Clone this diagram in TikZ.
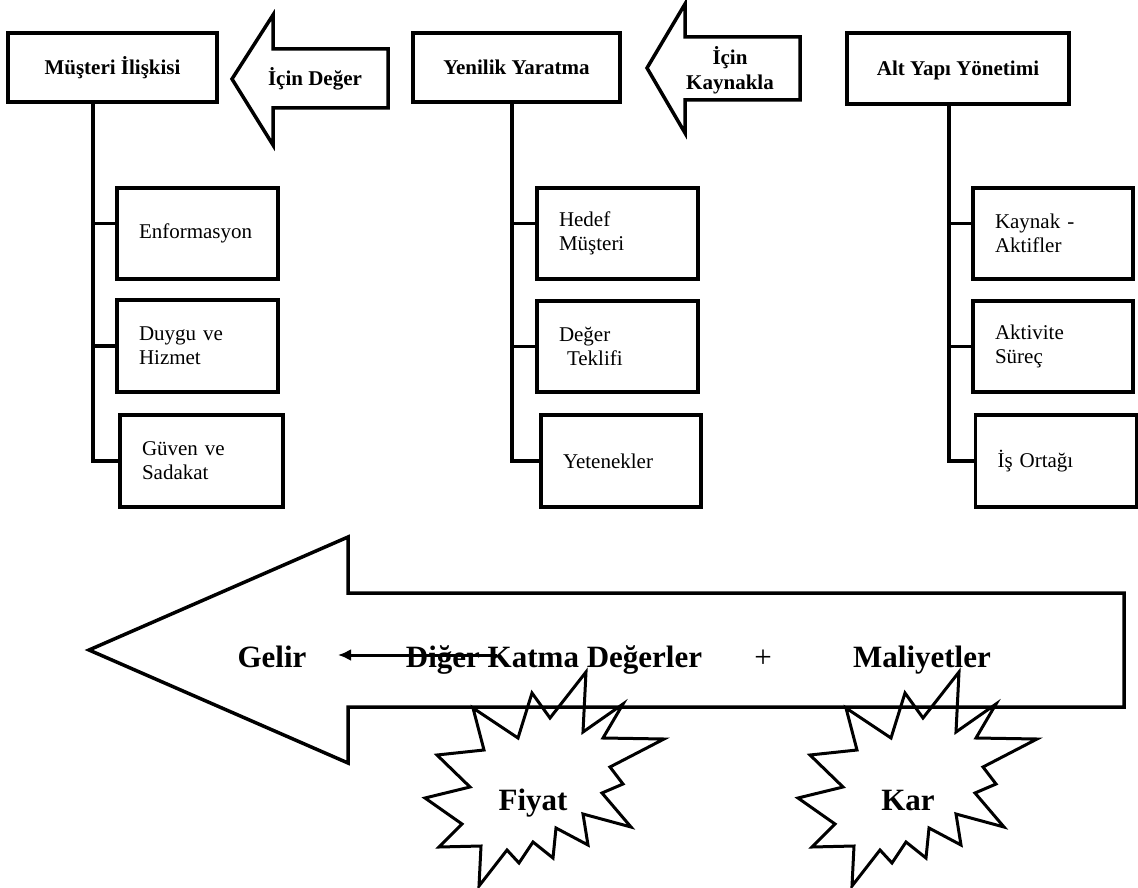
\documentclass[tikz,border=0pt]{standalone}
\usepackage{fontspec}
\setmainfont{Liberation Serif}
\usetikzlibrary{arrows.meta}
\begin{document}
\begin{tikzpicture}[x=1pt,y=-1pt,
  lw/.style={line width=3.5pt},
  outline/.style={draw, line width=3.5pt},
  topbox/.style={draw, line width=3.5pt, font=\fontsize{21}{25}\selectfont\bfseries, text height=18pt, text depth=4pt, inner sep=0pt},
  arrowtext/.style={font=\fontsize{21}{25}\selectfont\bfseries, inner sep=0pt, align=center},
  subbox/.style={draw, line width=3.5pt, font=\fontsize{21}{24}\selectfont, align=left, inner xsep=22pt, inner ysep=0pt},
  bigtext/.style={font=\fontsize{31}{36}\selectfont\bfseries, anchor=base, inner sep=0pt},
  burst/.pic={\draw[line width=3pt] (53,-128) -- (50,-68) -- (90,-96) -- (70,-62) -- (131,-61) -- (77,-33) -- (90,-16) -- (69,-7) -- (98,27) -- (50,14) -- (55,45) -- (23,28) -- (20,58) -- (0,42) -- (-14,63) -- (-26,50) -- (-54,86) -- (-52,46) -- (-94,47) -- (-71,24) -- (-108,-2) -- (-63,-13) -- (-96,-45) -- (-49,-50) -- (-60,-92) -- (-15,-62) -- (-1,-107) -- (17,-82) -- cycle;}
]
\useasboundingbox (0,0) rectangle (1138,888);

% top boxes
\node[topbox, minimum width=209pt, minimum height=69pt] (b1) at (112.5,67.5) {Müşteri İlişkisi};
\node[topbox, minimum width=207pt, minimum height=69pt] (b2) at (516.5,67.5) {Yenilik Yaratma};
\node[topbox, minimum width=222pt, minimum height=71pt] (b3) at (958,68.5) {Alt Yapı Yönetimi};

% top block arrows
\draw[outline] (232,79) -- (273,15) -- (273,49) -- (388,49) -- (388,108) -- (273,108) -- (273,145) -- cycle;
\node[arrowtext, text height=18pt, text depth=4pt] (icin1) at (315,79) {İçin Değer};
\draw[outline] (647,68) -- (685,4) -- (685,37) -- (800,37) -- (800,100) -- (685,100) -- (685,133) -- cycle;
\node[arrowtext] (icin2) at (730,70) {İçin\\Kaynakla};

% sub boxes column 1
\node[subbox, minimum width=161pt, minimum height=91pt, text width=117pt] (e1) at (197.5,233.5) {Enformasyon};
\node[subbox, minimum width=161pt, minimum height=92pt, text width=117pt] (d1) at (197.5,346) {Duygu ve\\Hizmet};
\node[subbox, minimum width=163pt, minimum height=92pt, text width=119pt] (g1) at (201.5,461) {Güven ve\\Sadakat};
% column 2
\node[subbox, minimum width=161pt, minimum height=91pt, text width=117pt] (h2) at (617.5,233.5) {Hedef\\Müşteri};
\node[subbox, minimum width=161pt, minimum height=91pt, text width=117pt] (d2) at (617.5,346.5) {Değer\\\hspace*{8pt}Teklifi};
\node[subbox, minimum width=160pt, minimum height=92pt, text width=116pt] (y2) at (621,461) {Yetenekler};
% column 3
\node[subbox, minimum width=160pt, minimum height=91pt, text width=116pt] (k3) at (1053,233.5) {Kaynak -\\Aktifler};
\node[subbox, minimum width=160pt, minimum height=91pt, text width=116pt] (a3) at (1053,346.5) {Aktivite\\Süreç};
\node[subbox, minimum width=161pt, minimum height=92pt, text width=117pt] (i3) at (1056,461) {İş Ortağı};

% trunks
\coordinate (t1) at (93,0);
\coordinate (t2) at (512,0);
\coordinate (t3) at (949,0);
\draw[lw] (b1.south -| t1) |- ([yshift=10pt]e1.west);
\draw[lw] (b1.south -| t1) |- (d1.west);
\draw[lw] (b1.south -| t1) |- (g1.west);
\draw[lw] (b2.south -| t2) |- ([yshift=10pt]h2.west);
\draw[lw] (b2.south -| t2) |- (d2.west);
\draw[lw] (b2.south -| t2) |- (y2.west);
\draw[lw] (b3.south -| t3) |- ([yshift=10pt]k3.west);
\draw[lw] (b3.south -| t3) |- (a3.west);
\draw[lw] (b3.south -| t3) |- (i3.west);

% bursts
\node[bigtext] (fiyat) at (533,810) {Fiyat};
\pic at (533,800) {burst};
\node[bigtext] (kar) at (908,810) {Kar};
\pic at (906,800) {burst};

% big arrow
\draw[outline] (89,650) -- (348,537) -- (348,593) -- (1124,593) -- (1124,707) -- (348,707) -- (348,763) -- cycle;
\node[bigtext] (gelir) at (272,667) {Gelir};
\node[bigtext] (diger) at (554,667) {Diğer Katma Değerler};
\node[bigtext, font=\fontsize{31}{36}\selectfont] (plus) at (763,667) {+};
\node[bigtext] (maliyet) at (922,667) {Maliyetler};
\coordinate (as) at (497,655);
\coordinate (ae) at (338,655);
\draw[line width=3pt, -{Latex[length=13pt,width=12pt]}] (as) -- (ae);
\end{tikzpicture}
\end{document}
